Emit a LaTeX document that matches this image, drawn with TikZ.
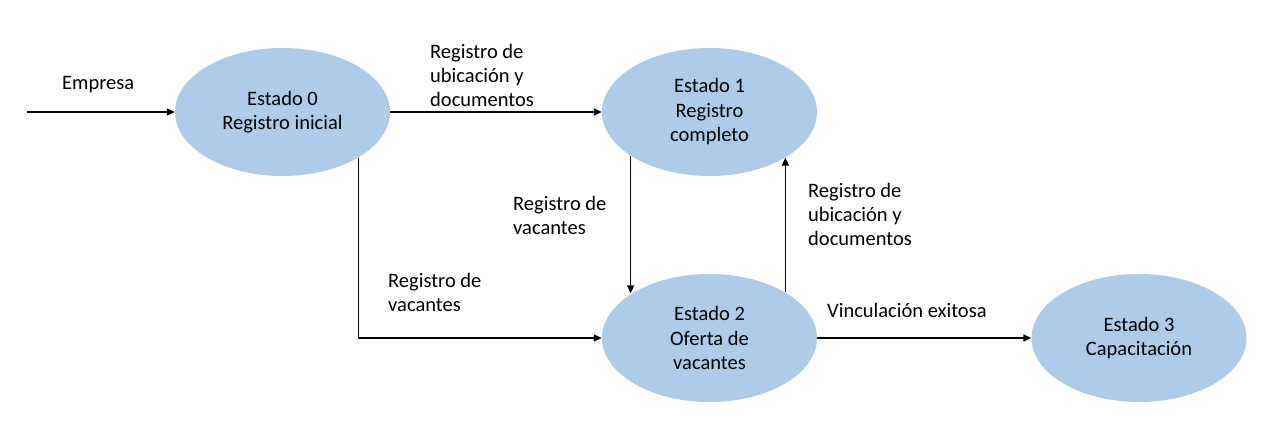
\documentclass[tikz,border=0pt]{standalone}
\usepackage{fontspec}
\setmainfont{Carlito}
\usetikzlibrary{shapes.geometric,arrows.meta}
\definecolor{stfill}{RGB}{174,203,234}
\tikzset{
  state/.style={ellipse, fill=stfill, minimum width=215pt, minimum height=128pt,
    inner sep=0pt, align=center, font=\fontsize{20.5}{24.5}\selectfont},
  lbl/.style={inner sep=0pt, align=left, font=\fontsize{20.5}{24}\selectfont},
  arr/.style={line width=1.5pt, -{Triangle[length=8pt,width=7pt]}}
}
\begin{document}
\begin{tikzpicture}[x=1pt,y=-1pt]
\useasboundingbox (0,0) rectangle (1277,438);
\node[state] (e0) at (282.5,112) {Estado 0\\Registro inicial};
\node[state] (e1) at (709.5,112) {Estado 1\\Registro\\completo};
\node[state] (e2) at (709.5,338) {Estado 2\\Oferta de\\vacantes};
\node[state] (e3) at (1139,338) {Estado 3\\Capacitación};
\coordinate (start) at (27,112);
\draw[arr] (start) -- (e0.west);
\draw[arr] (e0.east) -- (e1.west);
\draw[arr] (e0.-31.11) |- (e2.west);
\draw[arr] (e1.209.78) -- (e1.209.78 |- e2.150.22);
\draw[arr] (e2.31.75) -- (e2.31.75 |- e1.-31.75);
\draw[arr] (e2.east) -- (e3.west);
\node[lbl, anchor=base west] (l0) at (62,90) {Empresa};
\node[lbl, anchor=west] (l1) at (430,75) {Registro de\\ubicación y\\documentos};
\node[lbl, anchor=west] (l2) at (513,215.5) {Registro de\\vacantes};
\node[lbl, anchor=west] (l3) at (808,214) {Registro de\\ubicación y\\documentos};
\node[lbl, anchor=west] (l4) at (388,292) {Registro de\\vacantes};
\node[lbl, anchor=base west] (l5) at (827,317) {Vinculación exitosa};
\end{tikzpicture}
\end{document}
